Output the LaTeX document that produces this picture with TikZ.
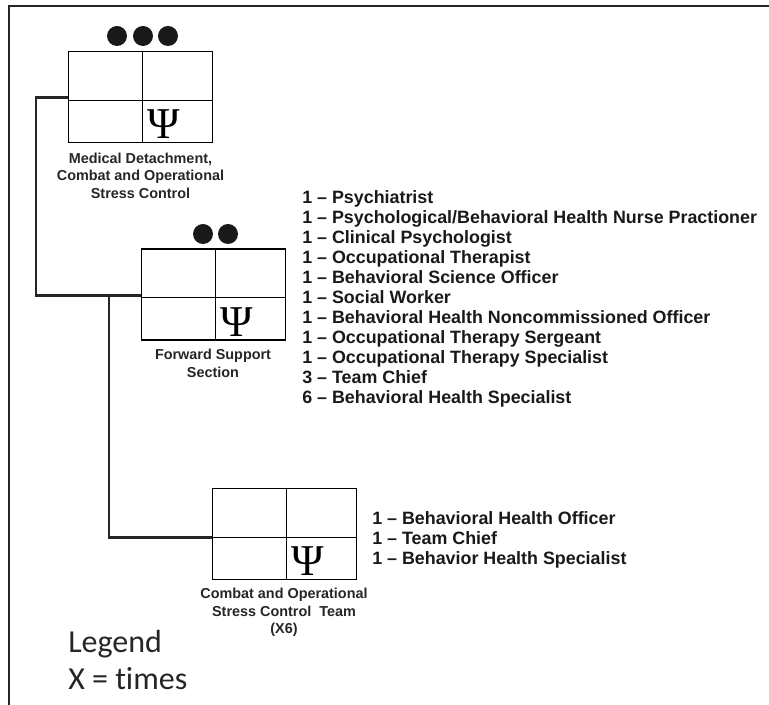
\documentclass[tikz,border=0pt]{standalone}
\usepackage{fontspec}
\setmainfont{Liberation Sans}
\newfontfamily\legendfont[Ligatures=NoCommon]{Carlito}
\newfontfamily\psifont{Liberation Serif}
\tikzset{
  unitbox/.style={draw=black,line width=1.1pt,minimum width=108pt,minimum height=68pt,inner sep=0pt,anchor=north west},
  unitdot/.style={circle,fill=black!90,inner sep=0pt,minimum width=15pt},
  unitcap/.style={font=\fontsize{10.8}{13.2}\selectfont\bfseries,align=center,text=black!85,inner sep=0pt,anchor=north},
  unitlist/.style={font=\fontsize{13.4}{15}\selectfont\bfseries,align=left,text=black!90,inner sep=0pt,anchor=north west},
  psi/.style={font=\psifont\fontsize{33}{33}\selectfont,inner sep=0pt},
  feed/.style={line width=2pt,black!85,line join=miter},
  frame/.style={line width=2pt,black!85}
}
\begin{document}
\begin{tikzpicture}[x=0.75pt,y=-0.75pt]
\useasboundingbox (0,0) rectangle (769,705);
\coordinate (framesw) at (9,705);
\coordinate (framene) at (769,6);
\draw [frame] (framesw) |- (framene);
% boxes
\node (meddet) [unitbox] at (68,51) {};
\node (fwdsup) [unitbox] at (141,248.5) {};
\node (cosc) [unitbox] at (212,488) {};
\foreach \unit in {meddet,fwdsup,cosc} {
  \draw [line width=0.7pt] ([xshift=1pt]\unit.north) -- ([xshift=1pt]\unit.south);
  \draw [line width=0.7pt] ([yshift=-2.4pt]\unit.west) -- ([yshift=-2.4pt]\unit.east);
}
\node (psia) [psi] at (164,124) {Ψ};
\node (psib) [psi] at (236.5,322) {Ψ};
\node (psic) [psi] at (308,561.5) {Ψ};
% dots
\node (dota) [unitdot] at (117,36) {};
\node (dotb) [unitdot] at (143,36) {};
\node (dotc) [unitdot] at (168,36) {};
\node (dotd) [unitdot] at (203,234) {};
\node (dote) [unitdot] at (228,234) {};
% connectors
\coordinate (busa) at (36,200);
\coordinate (busb) at (109,400);
\coordinate (portb) at ([yshift=-.75pt]fwdsup.west);
\coordinate (portc) at ([yshift=-2.6pt]cosc.west);
\draw [feed] ([yshift=-.4pt]meddet.west) -| (busa) |- (portb);
\draw [feed] (busb |- portb) -- (busb) |- (portc);
% labels
\node (capa) [unitcap] at (140.5,152.5) {Medical Detachment,\\Combat and Operational\\Stress Control};
\node (capb) [unitcap] at (213,349) {Forward Support\\Section};
\node (capc) [unitcap] at (284,588) {Combat and Operational\\Stress Control\ \ Team\\(X6)};
\node (lista) [unitlist] at (302,190) {1 -- Psychiatrist\\
1 -- Psychological/Behavioral Health Nurse Practioner\\
1 -- Clinical Psychologist\\
1 -- Occupational Therapist\\
1 -- Behavioral Science Officer\\
1 -- Social Worker\\
1 -- Behavioral Health Noncommissioned Officer\\
1 -- Occupational Therapy Sergeant\\
1 -- Occupational Therapy Specialist\\
3 -- Team Chief\\
6 -- Behavioral Health Specialist};
\node (listb) [unitlist] at (372,511) {1 -- Behavioral Health Officer\\
1 -- Team Chief\\
1 -- Behavior Health Specialist};
\node (legend) [font=\legendfont\fontsize{24}{28}\selectfont,align=left,inner sep=0pt,anchor=north west,text=black!85] at (68,630) {Legend\\X = times};
\end{tikzpicture}
\end{document}
